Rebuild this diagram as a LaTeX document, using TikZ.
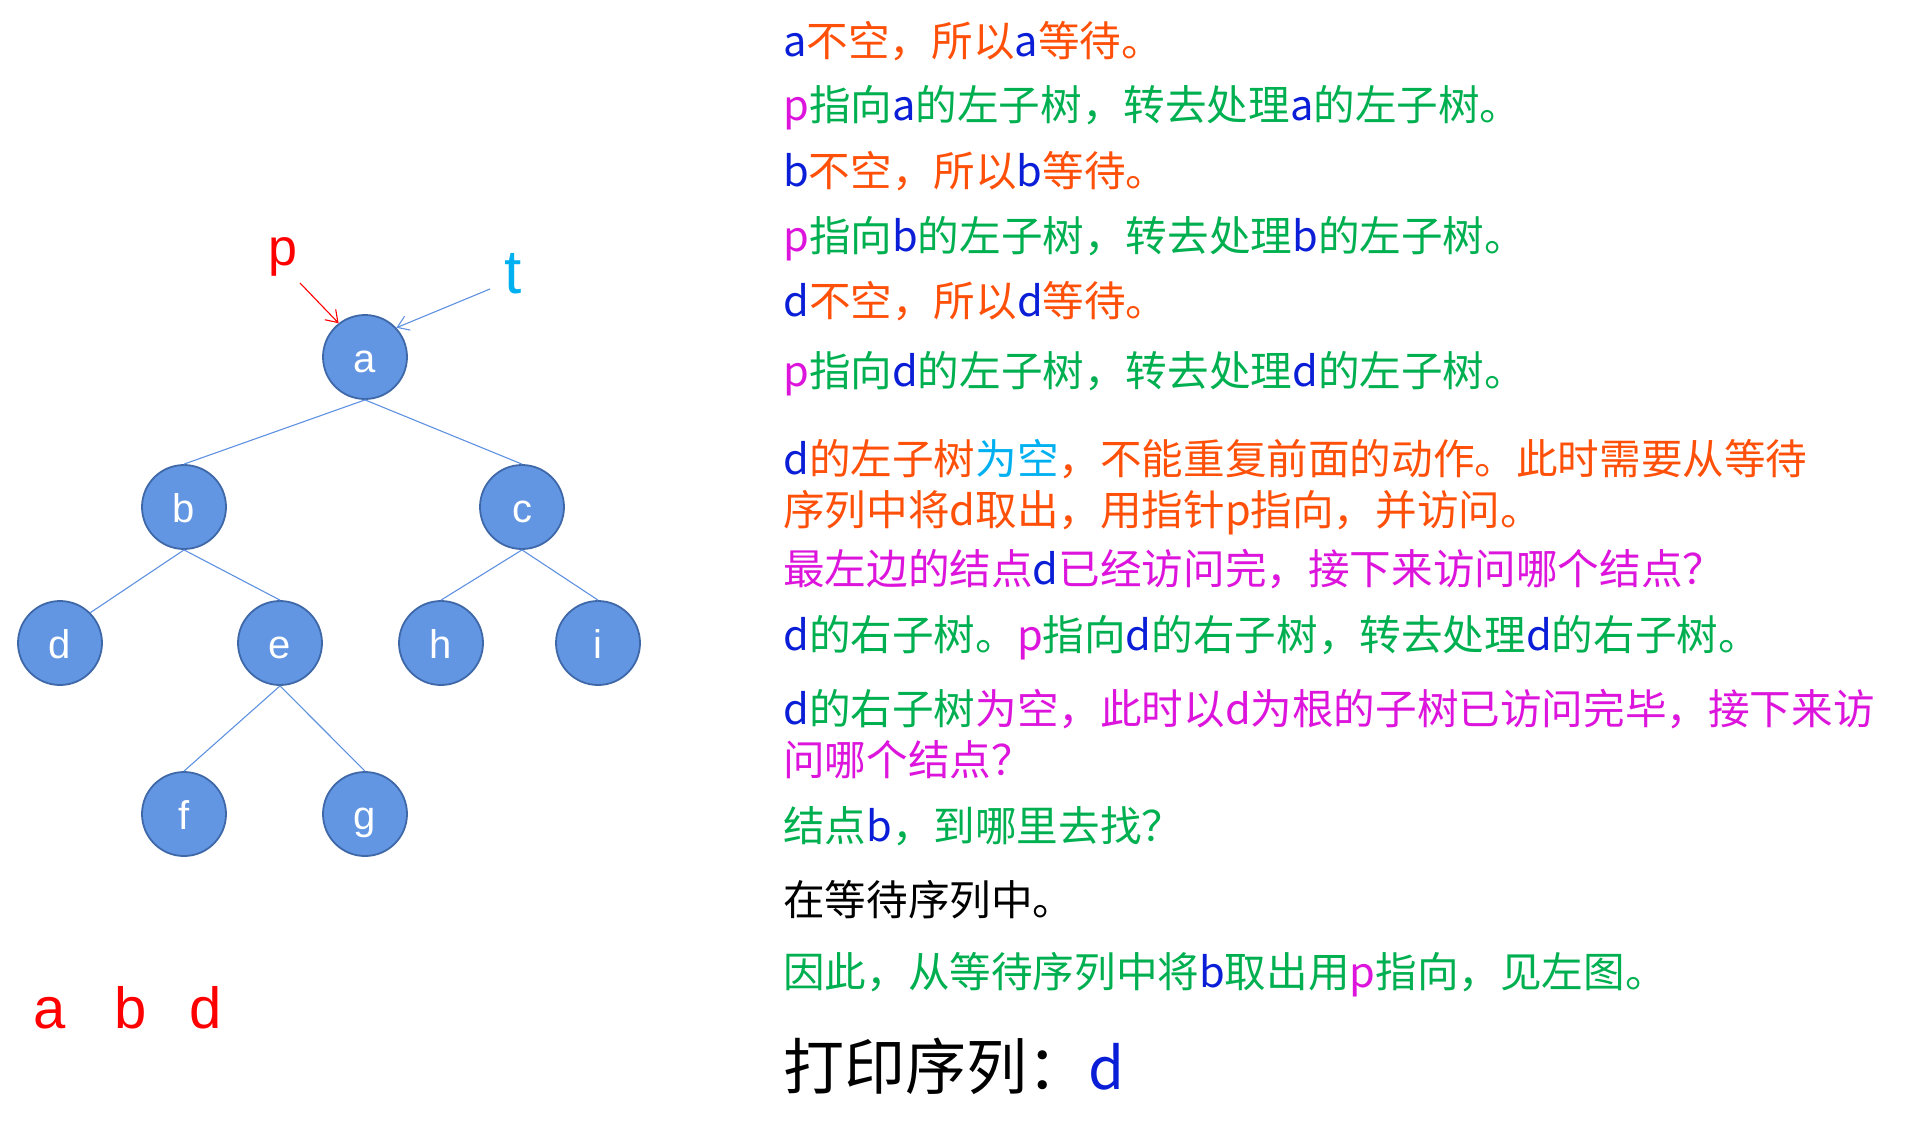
\documentclass[tikz,border=0pt]{standalone}
\usepackage{fontspec}
\setmainfont{Liberation Sans}
\newfontfamily\cjk{Noto Sans CJK SC}
\usetikzlibrary{arrows.meta}

\definecolor{nodefill}{RGB}{98,149,226}
\definecolor{nodeline}{RGB}{62,104,168}
\definecolor{edgeblue}{RGB}{95,145,225}
\definecolor{txtblue}{RGB}{10,30,215}
\definecolor{txtorange}{RGB}{255,80,10}
\definecolor{txtgreen}{RGB}{0,176,80}
\definecolor{txtmag}{RGB}{220,20,220}
\definecolor{txtsky}{RGB}{0,176,240}

\newcommand{\Blu}[1]{{\color{txtblue}#1}}
\newcommand{\Mag}[1]{{\color{txtmag}#1}}
\newcommand{\Grn}[1]{{\color{txtgreen}#1}}
\newcommand{\Sky}[1]{{\color{txtsky}#1}}

\begin{document}
\begin{tikzpicture}[x=1pt,y=-1pt,
        bt/.style={circle,fill=nodefill,draw=nodeline,line width=1.8pt,%tree node
                minimum size=84pt,inner sep=0pt,text=white,
                font=\fontsize{40}{40}\selectfont,text height=30pt,text depth=0pt},
        edge/.style={draw=edgeblue,line width=1.1pt},
        msg/.style={anchor=base west,inner sep=0pt,font=\cjk\fontsize{41.6}{49}\selectfont},%text lines
        >={Straight Barb[length=11pt,width=15pt]}
        ]
\useasboundingbox (0,0) rectangle (1925,1136);
% tree
\node[bt] (a) at (365,357) {a};
\node[bt] (b) at (184,507) {b};
\node[bt] (c) at (522,507) {c};
\node[bt] (d) at (60,643) {d};
\node[bt] (e) at (280,643) {e};
\node[bt] (h) at (441,643) {h};
\node[bt] (i) at (598,643) {i};
\node[bt] (f) at (184,814) {f};
\node[bt] (g) at (365,814) {g};
\draw[edge] (a.south) -- (b.north);
\draw[edge] (a.south) -- (c.north);
\draw[edge] (b.south) -- (d.45);
\draw[edge] (b.south) -- (e.north);
\draw[edge] (c.south) -- (h.north);
\draw[edge] (c.south) -- (i.north);
\draw[edge] (e.south) -- (f.north);
\draw[edge] (e.south) -- (g.north);
% pointers
\node[anchor=base,text=red,font=\fontsize{52}{52}\selectfont] (p) at (283,265) {p};
\node[anchor=base,text=txtsky,font=\fontsize{62}{62}\selectfont] (t) at (513,293) {t};
\coordinate (ptail) at (300,283);
\coordinate (ttail) at (490,289);
\draw[->,red,line width=1.1pt] (ptail) -- (a.128);
\draw[->,edgeblue,line width=1.1pt] (ttail) -- (a.43);
% waiting sequence
\node[anchor=base,text=red,font=\fontsize{58}{58}\selectfont] (q1) at (50,1028) {a};
\node[anchor=base,text=red,font=\fontsize{58}{58}\selectfont] (q2) at (131,1028) {b};
\node[anchor=base,text=red,font=\fontsize{58}{58}\selectfont] (q3) at (206,1028) {d};
% explanation
\node[msg,text=txtorange] (l1) at (783,56) {\Blu{a}不空，所以\Blu{a}等待。};
\node[msg,text=txtgreen] (l2) at (783,120) {\Mag{p}指向\Blu{a}的左子树，转去处理\Blu{a}的左子树。};
\node[msg,text=txtorange] (l3) at (783,186) {\Blu{b}不空，所以\Blu{b}等待。};
\node[msg,text=txtgreen] (l4) at (783,251) {\Mag{p}指向\Blu{b}的左子树，转去处理\Blu{b}的左子树。};
\node[msg,text=txtorange] (l5) at (783,316) {\Blu{d}不空，所以\Blu{d}等待。};
\node[msg,text=txtgreen] (l6) at (783,386) {\Mag{p}指向\Blu{d}的左子树，转去处理\Blu{d}的左子树。};
\node[msg,text=txtorange] (l7) at (783,474) {\Blu{d}的左子树\Sky{为空}，不能重复前面的动作。此时需要从等待};
\node[msg,text=txtorange] (l8) at (783,525) {序列中将d取出，用指针p指向，并访问。};
\node[msg,text=txtmag] (l9) at (783,584) {最左边的结点\Blu{d}已经访问完，接下来访问哪个结点？};
\node[msg,text=txtgreen] (l10) at (783,650) {\Blu{d}的右子树。\Mag{p}指向\Blu{d}的右子树，转去处理\Blu{d}的右子树。};
\node[msg,text=txtmag] (l11) at (783,724) {\Blu{d}\Grn{的右子树}为空，此时以d为根的子树已访问完毕，接下来访};
\node[msg,text=txtmag] (l12) at (783,775) {问哪个结点？};
\node[msg,text=txtgreen] (l13) at (783,841) {结点\Blu{b}，到哪里去找？};
\node[msg,text=black] (l14) at (783,915) {在等待序列中。};
\node[msg,text=txtgreen] (l15) at (783,987) {因此，从等待序列中将\Blu{b}取出用\Mag{p}指向，见左图。};
\node[msg,text=black,font=\cjk\fontsize{61}{70}\selectfont] (l16) at (783,1089) {打印序列：};
\node[msg,text=txtblue,font=\cjk\fontsize{58}{58}\selectfont] (out) at (l16.base east) {d};
\end{tikzpicture}
\end{document}
